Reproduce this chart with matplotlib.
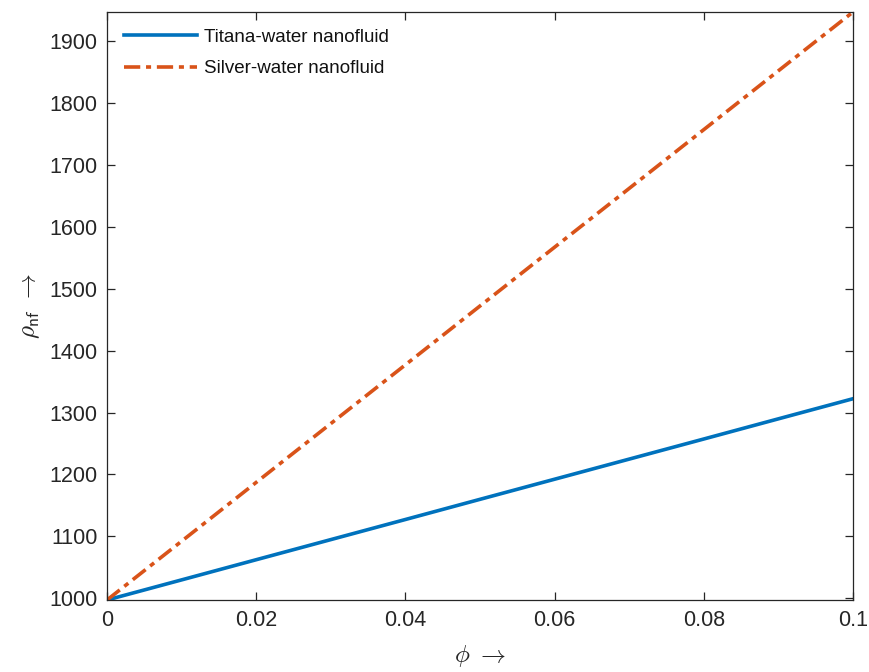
import matplotlib
matplotlib.use("Agg")
import matplotlib.pyplot as plt

phi = [0.0, 0.01, 0.02, 0.03, 0.04, 0.05, 0.06, 0.07, 0.08, 0.09, 0.10]
rho_titania = [997.1, 1029.6, 1062.2, 1094.7, 1127.2, 1159.8, 1192.3, 1224.8, 1257.3, 1289.9, 1322.4]
rho_silver = [997.1, 1092.1, 1187.2, 1282.2, 1377.2, 1472.3, 1567.3, 1662.3, 1757.3, 1852.4, 1947.4]
labels = ["Titana-water nanofluid", "Silver-water nanofluid"]
xticks = [0, 0.02, 0.04, 0.06, 0.08, 0.1]
xticklabels = ["0", "0.02", "0.04", "0.06", "0.08", "0.1"]
yticks = [1000, 1100, 1200, 1300, 1400, 1500, 1600, 1700, 1800, 1900]

plt.rcParams['font.family'] = ['Liberation Sans', 'DejaVu Sans']
plt.rcParams['mathtext.fontset'] = 'cm'

fig = plt.figure(figsize=(8.7, 6.72), dpi=100)
ax = fig.add_axes([107/870, 72/672, (853-107)/870, (600-12)/672])

ax.plot(phi, rho_titania, color='#0072BD', lw=2.6, label=labels[0])
ax.plot(phi, rho_silver, color='#D95319', lw=2.6, linestyle=(0, (4.5, 1.6, 1.4, 1.6)), label=labels[1])

ax.set_xlim(0, 0.1)
ax.set_ylim(min(rho_titania), max(rho_silver))
ax.set_xticks(xticks)
ax.set_xticklabels(xticklabels)
ax.set_yticks(yticks)

c = '#262626'
for s in ax.spines.values():
    s.set_color(c)
    s.set_linewidth(0.9)
ax.tick_params(direction='in', length=6, width=0.9, colors=c, labelsize=15.5,
               top=True, right=True, pad=7)

ax.set_xlabel(r'$\phi\ \rightarrow$', fontsize=18, color=c, labelpad=9)
ax.set_ylabel(r'$\rho_{\mathsf{nf}}\ \rightarrow$', fontsize=18, color=c, labelpad=5)

leg = ax.legend(loc='upper left', frameon=False, fontsize=13.5, handlelength=3.9,
                handletextpad=0.35, borderaxespad=0.6, labelspacing=0.75,
                borderpad=0.3)
for t in leg.get_texts():
    t.set_color('#111111')

fig.savefig('out.png', dpi=100)
